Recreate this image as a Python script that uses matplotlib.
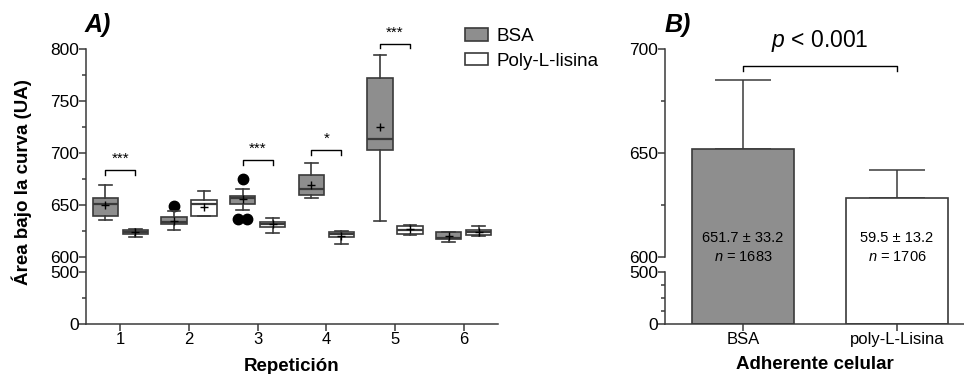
import numpy as np
import matplotlib
matplotlib.use('Agg')
import matplotlib.pyplot as plt
from matplotlib.lines import Line2D
from matplotlib.patches import Patch

plt.rcParams['font.family'] = ['Liberation Sans', 'DejaVu Sans']
plt.rcParams['mathtext.fontset'] = 'custom'
plt.rcParams['mathtext.rm'] = 'Liberation Sans'
plt.rcParams['mathtext.it'] = 'Liberation Sans:italic'

# panel A: box summaries, per repetition
reps = [1, 2, 3, 4, 5, 6]
bsa_wlo = [635.9, 626.2, 644.8, 656.4, 634.6, 614.8]
bsa_q1 = [639.4, 631.4, 651.3, 659.2, 703.2, 617.6]
bsa_med = [650.6, 633.7, 656.7, 665.4, 713.1, 618.0]
bsa_q3 = [656.7, 638.5, 658.3, 678.8, 771.7, 624.3]
bsa_whi = [668.8, 644.5, 665.7, 690.3, 793.8, 624.3]
bsa_mean = [650.0, 634.9, 655.8, 669.2, 724.6, 620.2]
bsa_out = [[], [648.7], [675.3, 636.8, 636.8], [], [], []]

poly_wlo = [619.5, 639.5, 623.0, 612.8, 620.8, 620.5]
poly_q1 = [622.4, 639.7, 628.8, 619.2, 622.4, 621.4]
poly_med = [624.3, 651.0, 631.7, 622.0, 626.2, 624.3]
poly_q3 = [626.0, 654.8, 633.3, 623.7, 629.8, 626.3]
poly_whi = [627.2, 663.7, 637.5, 624.6, 631.0, 629.8]
poly_mean = [624.5, 648.4, 631.5, 620.5, 626.5, 623.7]

sig_reps = [1, 3, 4, 5]
sig_labels = ['***', '***', '*', '***']
sig_heights = [683.7, 693.3, 702.9, 805.0]

# panel B: means and SD
groups = ['BSA', 'poly-L-Lisina']
means = [651.7, 628.5]
sds = [33.2, 13.2]
mean_txt = ['651.7 ± 33.2', '59.5 ± 13.2']
ns = [1683, 1706]

GRAY = '#8e8e8e'
EDGE = '#3a3a3a'


def broken(top):
    # 0-500 -> 52 px, 500-600 -> 15 px gap, 600-top -> 208 px
    k = 208.0 / (top - 600)

    def fwd(y):
        y = np.asarray(y, dtype=float)
        return np.where(y <= 500, y * 52 / 500,
                        np.where(y <= 600, 52 + (y - 500) * 0.15, 67 + (y - 600) * k))

    def inv(v):
        v = np.asarray(v, dtype=float)
        return np.where(v <= 52, v * 500 / 52,
                        np.where(v <= 67, 500 + (v - 52) / 0.15, 600 + (v - 67) / k))
    return fwd, inv


fig = plt.figure(figsize=(9.64, 3.74), dpi=100)
axA = fig.add_axes([86 / 964, 50 / 374, 412 / 964, 275 / 374])
axB = fig.add_axes([665 / 964, 50 / 374, 299 / 964, 275 / 374])

for ax, top, majors, minors in [(axA, 800, [0, 500, 600, 650, 700, 750, 800], [250, 625, 675, 725, 775]),
                                (axB, 700, [0, 500, 600, 650, 700], [125, 250, 375, 625, 675])]:
    ax.set_yscale('function', functions=broken(top))
    ax.set_ylim(0, top)
    ax.set_yticks(majors)
    ax.set_yticks(minors, minor=True)
    ax.spines['top'].set_visible(False)
    ax.spines['right'].set_visible(False)
    for s in ['left', 'bottom']:
        ax.spines[s].set_color(EDGE)
        ax.spines[s].set_linewidth(1.1)
    ax.tick_params(which='major', length=5, width=1.1, color=EDGE, labelsize=12, pad=1)
    ax.tick_params(which='minor', length=3, width=1.1, color=EDGE)
    ax.tick_params(axis='y', pad=0, labelsize=12.5)

# ---- panel A boxplots
off = 0.22
bw = 0.37
stats_b, stats_p = [], []
for i in range(len(reps)):
    stats_b.append(dict(whislo=bsa_wlo[i], q1=bsa_q1[i], med=bsa_med[i], q3=bsa_q3[i],
                        whishi=bsa_whi[i], mean=bsa_mean[i], fliers=[]))
    stats_p.append(dict(whislo=poly_wlo[i], q1=poly_q1[i], med=poly_med[i], q3=poly_q3[i],
                        whishi=poly_whi[i], mean=poly_mean[i], fliers=[]))

pos_b = np.array(reps) - off
pos_p = np.array(reps) + off
common = dict(widths=bw, capwidths=bw * 0.5, patch_artist=True, showmeans=True,
              boxprops=dict(edgecolor=EDGE, linewidth=1.2),
              whiskerprops=dict(color=EDGE, linewidth=1.2),
              capprops=dict(color=EDGE, linewidth=1.2),
              medianprops=dict(color=EDGE, linewidth=1.6),
              meanprops=dict(marker='+', markeredgecolor='black', markersize=5.5, markeredgewidth=1.0),
              manage_ticks=False)
rb = axA.bxp(stats_b, positions=pos_b, **common)
rp = axA.bxp(stats_p, positions=pos_p, **common)
for b in rb['boxes']:
    b.set_facecolor(GRAY)
for j, b in enumerate(rp['boxes']):
    b.set_facecolor(GRAY if j == 0 else 'white')

# outliers, equal values spread side by side
for x0, outs in zip(pos_b, bsa_out):
    vals, counts = np.unique(outs, return_counts=True)
    for v, c in zip(vals, counts):
        xs = x0 + (np.arange(c) - (c - 1) / 2) * 0.12
        axA.plot(xs, [v] * c, 'o', color='black', markersize=7.5, zorder=1)

for r, lab, h in zip(sig_reps, sig_labels, sig_heights):
    x1, x2 = r - off, r + off
    axA.plot([x1, x1, x2, x2], [h - 4.5, h, h, h - 4.5], color='black', lw=1, clip_on=False)
    axA.text(r, h + 4, lab, ha='center', va='bottom', fontsize=11, clip_on=False)

axA.set_xlim(0.5, 6.5)
axA.set_xticks(reps)
axA.set_xlabel('Repetición', fontsize=13.5, fontweight='bold', labelpad=8)
fig.text(22 / 964, 1 - 182 / 374, 'Área bajo la curva (UA)', rotation=90, ha='center', va='center',
         fontsize=13.5, fontweight='bold')
fig.text(85 / 964, 1 - 25 / 374, 'A)', fontsize=18, fontweight='bold', fontstyle='italic',
         ha='left', va='center')

leg = fig.legend(handles=[Patch(facecolor=GRAY, edgecolor=EDGE, lw=1.2, label='BSA'),
                          Patch(facecolor='white', edgecolor=EDGE, lw=1.2, label='Poly-L-lisina')],
                 loc='upper left', bbox_to_anchor=(465 / 964, 1 - 28 / 374), frameon=False,
                 fontsize=13.5, handlelength=1.2, handleheight=0.65, handletextpad=0.5,
                 labelspacing=0.4, borderaxespad=0, borderpad=0)

# ---- panel B bars
xb = np.arange(len(groups))
axB.bar(xb, means, width=0.66, color=[GRAY, 'white'], edgecolor=EDGE, linewidth=1.2, zorder=2)
axB.errorbar(xb, means, yerr=[np.zeros(len(sds)), sds], fmt='none', ecolor=EDGE,
             elinewidth=1.1, capsize=20, capthick=1.1, zorder=1)
for x, t, n in zip(xb, mean_txt, ns):
    axB.text(x, 609, t, ha='center', va='center', fontsize=10.5,
             family=['Liberation Sans Narrow', 'Liberation Sans'])
    axB.text(x, 600, r'$\mathit{n}$ = %d' % n, ha='center', va='center', fontsize=10.5,
             family=['Liberation Sans Narrow', 'Liberation Sans'])
axB.plot([0, 0, 1, 1], [689.5, 692, 692, 689.5], color='black', lw=1)
axB.text(0.5, 704, r'$\mathit{p}$ < 0.001', ha='center', va='center', fontsize=16.5, clip_on=False)
axB.set_xlim(-0.506, 1.435)
axB.set_xticks(xb)
axB.set_xticklabels(groups)
axB.set_xlabel('Adherente celular', fontsize=13.5, fontweight='bold', labelpad=6)
axB.spines['left'].set_bounds(600, 700)
axB.add_line(Line2D([0, 0], [0, 500], transform=axB.get_yaxis_transform(), color=EDGE,
                    lw=1.1, clip_on=False))
fig.text(665 / 964, 1 - 25 / 374, 'B)', fontsize=18, fontweight='bold', fontstyle='italic',
         ha='left', va='center')

fig.savefig('out.png', dpi=100)
